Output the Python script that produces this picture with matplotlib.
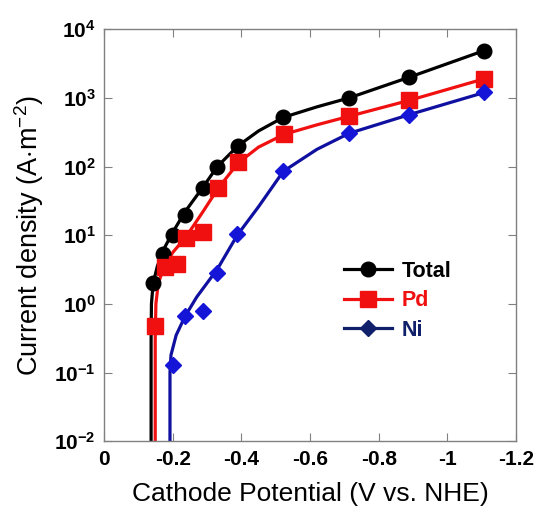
import matplotlib
matplotlib.use('Agg')
from matplotlib import pyplot as plt
from matplotlib.lines import Line2D

plt.rcParams['font.family'] = ['Liberation Sans', 'DejaVu Sans']
plt.rcParams['mathtext.fontset'] = 'custom'
plt.rcParams['mathtext.rm'] = 'Liberation Sans'
plt.rcParams['mathtext.bf'] = 'Liberation Sans:bold'

# measured points (potential in V vs. NHE, current density in A/m2)
total_v = [-0.143, -0.172, -0.200, -0.236, -0.288, -0.330, -0.390, -0.522, -0.714, -0.889, -1.108]
total_j = [2.0, 5.4, 10, 20, 49, 100, 196, 520, 1000, 2000, 4900]
pd_v = [-0.149, -0.178, -0.213, -0.239, -0.288, -0.332, -0.390, -0.525, -0.714, -0.889, -1.108]
pd_j = [0.48, 3.4, 3.8, 9.0, 11, 48, 118, 295, 540, 920, 1900]
ni_v = [-0.200, -0.236, -0.289, -0.330, -0.388, -0.522, -0.714, -0.889, -1.108]
ni_j = [0.13, 0.66, 0.79, 2.8, 10.5, 85, 305, 570, 1200]

# fitted curves
total_fit_v = [-0.137, -0.137, -0.138, -0.143, -0.155, -0.172, -0.200, -0.236, -0.288, -0.330,
               -0.390, -0.450, -0.522, -0.620, -0.714, -0.889, -1.108]
total_fit_j = [0.01, 0.3, 1.0, 2.0, 3.5, 6.0, 11, 22, 50, 100, 200, 330, 520, 740, 1000, 2000, 4900]
pd_fit_v = [-0.149, -0.149, -0.151, -0.158, -0.175, -0.200, -0.239, -0.288, -0.332, -0.390,
            -0.450, -0.525, -0.620, -0.714, -0.889, -1.108]
pd_fit_j = [0.01, 0.3, 1.0, 2.0, 3.5, 5.6, 9.5, 22, 48, 112, 192, 295, 405, 540, 920, 1900]
ni_fit_v = [-0.192, -0.192, -0.195, -0.210, -0.236, -0.270, -0.330, -0.388, -0.450, -0.522,
            -0.620, -0.714, -0.889, -1.108]
ni_fit_j = [0.01, 0.1, 0.18, 0.35, 0.66, 1.26, 3.2, 10, 26, 85, 178, 305, 570, 1200]

xticks = [0, -0.2, -0.4, -0.6, -0.8, -1.0, -1.2]
xtick_labels = ['0', '-0.2', '-0.4', '-0.6', '-0.8', '-1', '-1.2']
yticks = [1e-2, 1e-1, 1e0, 1e1, 1e2, 1e3, 1e4]
ytick_labels = [r'$\mathbf{10^{-2}}$', r'$\mathbf{10^{-1}}$', r'$\mathbf{10^{0}}$', r'$\mathbf{10^{1}}$',
                r'$\mathbf{10^{2}}$', r'$\mathbf{10^{3}}$', r'$\mathbf{10^{4}}$']

red = '#f01010'
blue_line = '#1010a0'
blue_mark = '#1515d8'
navy = '#10206a'

fig = plt.figure(figsize=(5.42, 5.13), dpi=100)
ax = fig.add_axes([0.192, 0.140, 0.760, 0.803])

ax.plot(total_fit_v, total_fit_j, color='black', lw=2.3, zorder=2)
ax.plot(pd_fit_v, pd_fit_j, color=red, lw=2.3, zorder=2)
ax.plot(ni_fit_v, ni_fit_j, color=blue_line, lw=2.3, zorder=2)
ax.plot(total_v, total_j, 'o', color='black', ms=10.5, zorder=3)
ax.plot(pd_v, pd_j, 's', color=red, ms=11, zorder=3)
ax.plot(ni_v, ni_j, 'D', color=blue_mark, ms=8, zorder=3)

ax.set_yscale('log')
ax.set_xlim(0, -1.2)
ax.set_ylim(1e-2, 1e4)
ax.set_xticks(xticks)
ax.set_xticklabels(xtick_labels, fontsize=15, fontweight='bold')
ax.set_yticks(yticks)
ax.set_yticklabels(ytick_labels, fontsize=15)
ax.minorticks_off()
ax.tick_params(direction='in', length=6, width=0.8, color='#808080', top=True, right=True, pad=6)
for s in ax.spines.values():
    s.set_color('#808080')
    s.set_linewidth(1.0)

ax.set_xlabel('Cathode Potential (V vs. NHE)', fontsize=19, labelpad=10)
ax.set_ylabel(r'Current density (A$\cdot$m$^{\mathregular{-2}}$)', fontsize=19.5, labelpad=6)

handles = [
    Line2D([], [], color='black', lw=2.3, marker='o', ms=10.5),
    Line2D([], [], color=red, lw=2.3, marker='s', ms=11),
    Line2D([], [], color=navy, lw=2.3, marker='D', ms=8),
]
ax.legend(handles, ['Total', 'Pd', 'Ni'], loc='center left', bbox_to_anchor=(0.536, 0.341),
          frameon=False, prop={'size': 15.5, 'weight': 'bold'}, labelcolor=['black', red, navy],
          handlelength=2.2, handletextpad=0.45, labelspacing=0.4)

fig.savefig('out.png', dpi=100)
